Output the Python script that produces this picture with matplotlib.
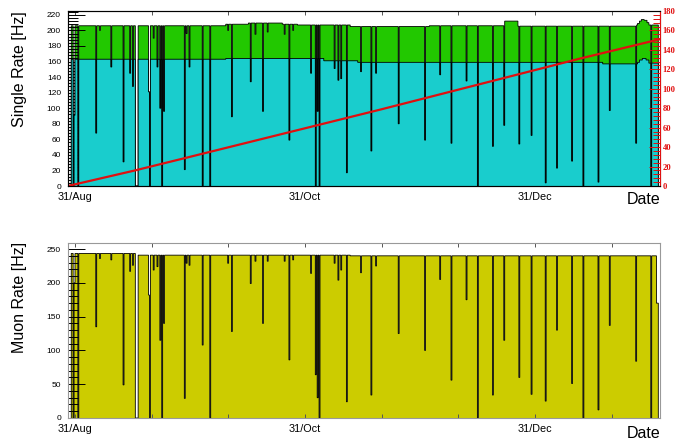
import numpy as np
import matplotlib
matplotlib.use("Agg")
import matplotlib.pyplot as plt
from matplotlib.ticker import MultipleLocator, FixedLocator

plt.rcParams['font.family'] = ['Liberation Sans', 'DejaVu Sans']

# days counted from 31/Aug
tick_days = [0, 61, 122]
tick_labels = ["31/Aug", "31/Oct", "31/Dec"]

# run period and data gap (days)
run_start, run_end = -1.0, 154.7
gap = (15.9, 16.8)

# base levels as steps: (start day, level)
single_total_steps = [(-1.0, 206), (40.0, 208), (46.0, 209.5), (55.0, 208), (59.0, 207),
                      (73.0, 205), (94.0, 206), (113.8, 212), (117.5, 205.5),
                      (148.8, 207), (149.3, 209), (149.8, 212), (150.3, 214),
                      (151.0, 213), (151.7, 210), (152.3, 207)]
single_part_steps = [(-1.0, 163), (40.0, 164), (66.0, 161), (75.0, 159), (140.0, 157),
                     (149.3, 159), (149.8, 162), (150.5, 164), (151.5, 162),
                     (152.3, 158)]
muon_steps = [(-1.0, 243.5), (16.8, 241), (73.0, 240), (154.3, 170)]

# dips: day, single rate minimum, muon rate minimum
dip_days = [-0.45, 0.0, 0.88, 5.65, 6.6, 9.73, 12.8, 14.6, 15.5,
            19.7, 20.0, 20.8, 21.9, 22.7, 23.1, 23.7, 29.2, 29.6, 30.5,
            33.95, 35.8, 40.7, 41.65, 46.6, 48.0, 49.9, 51.2, 55.7, 56.8, 57.8,
            62.6, 63.85, 64.3, 64.9, 69.0, 69.8, 70.7, 72.1,
            75.9, 78.7, 79.8, 85.9, 92.8, 96.8, 99.9, 103.9, 106.8,
            111.0, 113.8, 117.8, 121.1, 124.9, 128.0, 132.0, 134.9,
            139.0, 141.9, 149.0, 153.0]
dip_single = [0, 91, 0, 68, 200, 153, 31, 145, 128,
              121, 0, 190, 153, 100, 0, 96, 21, 196, 153,
              0, 0, 200, 89, 134, 195, 96, 198, 195, 59, 200,
              145, 0, 96, 0, 151, 136, 138, 17,
              147, 45, 145, 80, 59, 143, 55, 135, 0,
              51, 78, 54, 65, 4, 23, 32, 0,
              5, 97, 55, 0]
dip_muon = [0, 200, 0, 135, 236, 234, 49, 217, 226,
            182, 0, 219, 224, 115, 0, 140, 29, 229, 226,
            108, 0, 229, 128, 199, 232, 140, 232, 232, 86, 234,
            214, 64, 30, 0, 229, 204, 219, 24,
            215, 34, 225, 125, 100, 205, 56, 175, 0,
            34, 115, 60, 35, 25, 130, 51, 0,
            12, 137, 84, 0]

# cumulative live time (right axis, days)
live_days = [-1.9, 15.9, 27.9, 80.9, 133.9, 155.2]
live_total = [0, 16, 27.5, 78.5, 131, 151]

# build step histograms
bw = 0.25
edges = np.arange(run_start, run_end + bw / 2, bw)
centers = 0.5 * (edges[:-1] + edges[1:])


def steps_to_bins(steps):
    vals = np.zeros(len(centers))
    for start, level in steps:
        vals[centers >= start] = level
    return vals


total = steps_to_bins(single_total_steps)
part = steps_to_bins(single_part_steps)
muon = steps_to_bins(muon_steps)
for d, vs, vm in zip(dip_days, dip_single, dip_muon):
    i = min(max(np.searchsorted(edges, d) - 1, 0), len(centers) - 1)
    total[i] = min(total[i], vs)
    part[i] = min(part[i], vs)
    muon[i] = min(muon[i], vm)
in_gap = (centers > gap[0]) & (centers < gap[1])
total[in_gap] = 0
part[in_gap] = 0
muon[in_gap] = 0

fig = plt.figure(figsize=(6.86, 4.47), dpi=100)
ax1 = fig.add_axes([68 / 686, 1 - 186 / 447, 592 / 686, 175 / 447])
ax3 = fig.add_axes([68 / 686, 1 - 418 / 447, 592 / 686, 175 / 447])

# top: single rates
ax1.stairs(total, edges, fill=True, facecolor='#22c800', edgecolor='black', lw=0.6, zorder=1)
ax1.stairs(part, edges, fill=True, facecolor='#19cdcd', edgecolor='black', lw=0.6, zorder=1.6)
ax1.set_ylim(0, 225)
ax1.yaxis.set_major_locator(MultipleLocator(20))
ax1.yaxis.set_minor_locator(MultipleLocator(4))

# bottom: muon rate
ax3.stairs(muon, edges, fill=True, facecolor='#cccc00', edgecolor='black', lw=0.6, zorder=1)
ax3.set_ylim(0, 259)
ax3.yaxis.set_major_locator(MultipleLocator(50))
ax3.yaxis.set_minor_locator(MultipleLocator(10))

for ax, sc in ((ax1, '#333333'), (ax3, '#999999')):
    ax.set_xlim(-1.86, 155.2)
    ax.xaxis.set_major_locator(FixedLocator(tick_days))
    ax.xaxis.set_minor_locator(MultipleLocator(61 / 3))
    ax.set_xticklabels(tick_labels)
    ax.tick_params(axis='x', which='both', direction='in', top=True, length=3,
                   width=0.7, color='#555555', labelsize=7.8, pad=4)
    ax.tick_params(axis='y', which='major', direction='in', length=12, width=0.7,
                   labelsize=6, pad=5)
    ax.tick_params(axis='y', which='minor', direction='in', length=7, width=0.7)
    for s in ax.spines.values():
        s.set_color(sc)
        s.set_linewidth(0.8)

# right axis: cumulative days
ax2 = ax1.twinx()
ax2.plot(live_days, live_total, color='#e01010', lw=1.6)
ax2.set_ylim(0, 180)
ax2.yaxis.set_major_locator(MultipleLocator(20))
ax2.yaxis.set_minor_locator(MultipleLocator(4))
ax2.tick_params(axis='y', which='major', direction='in', length=8, width=0.7,
                colors='#e01010', pad=2)
ax2.tick_params(axis='y', which='minor', direction='in', length=5, width=0.7,
                colors='#e01010')
for t in ax2.get_yticklabels():
    t.set_fontfamily('Liberation Serif')
    t.set_fontweight('bold')
    t.set_fontsize(6.2)
ax2.spines['right'].set_color('#e01010')

fig.text(19.5 / 686, 1 - 69 / 447, "Single Rate [Hz]", rotation=90,
         ha='center', va='center', fontsize=11.5)
fig.text(19.5 / 686, 1 - 297 / 447, "Muon Rate [Hz]", rotation=90,
         ha='center', va='center', fontsize=11.5)
fig.text(627 / 686, 1 - 199 / 447, "Date", ha='left', va='center', fontsize=11.5)
fig.text(627 / 686, 1 - 433 / 447, "Date", ha='left', va='center', fontsize=11.5)

fig.savefig("out.png", dpi=100)
